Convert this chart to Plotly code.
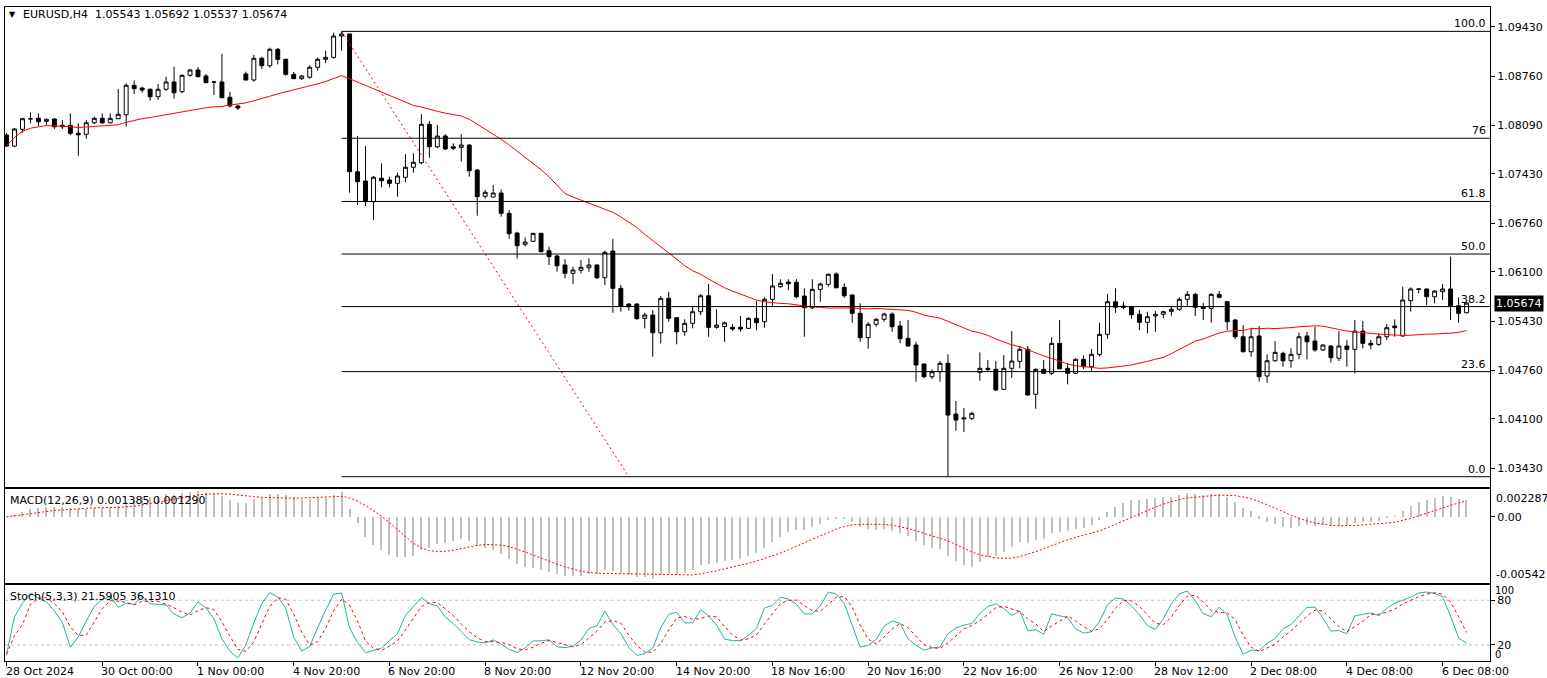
import plotly.graph_objects as go
import pandas as pd

# ---------------- data (EURUSD H4) ----------------
opens = [1.07958,1.07808,1.08036,1.08180,1.08185,1.08144,1.08176,1.08090,1.08090,1.07981,
1.07968,1.08125,1.08185,1.08125,1.08180,1.08234,1.08634,1.08597,1.08580,1.08479,
1.08580,1.08679,1.08547,1.08770,1.08842,1.08760,1.08679,1.08679,1.08471,1.08353,
1.08788,1.08706,1.09001,1.08900,1.09123,1.08987,1.08783,1.08724,1.08743,1.08879,
1.08987,1.09014,1.09304,1.09331,1.07460,1.07333,1.07052,1.07370,1.07347,1.07302,
1.07384,1.07520,1.07582,1.08104,1.07799,1.07945,1.07799,1.07790,1.07822,1.07483,
1.07126,1.07116,1.07170,1.06894,1.06626,1.06473,1.06514,1.06622,1.06386,1.06314,
1.06192,1.06079,1.06120,1.06155,1.06192,1.06019,1.06382,1.05875,1.05662,1.05662,
1.05467,1.05512,1.05271,1.05739,1.05476,1.05285,1.05399,1.05557,1.05774,1.05345,
1.05356,1.05345,1.05345,1.05331,1.05467,1.05421,1.05726,1.05897,1.05961,1.05957,
1.05770,1.05611,1.05861,1.05929,1.06070,1.05888,1.05784,1.05535,1.05204,1.05386,
1.05454,1.05526,1.05363,1.05195,1.05105,1.04847,1.04674,1.04742,1.04856,1.04167,
1.04100,1.04108,1.04733,1.04788,1.04774,1.04502,1.04788,1.04883,1.05046,1.04435,
1.04774,1.04720,1.05127,1.04788,1.04720,1.04910,1.04810,1.04978,1.05250,1.05693,
1.05634,1.05625,1.05522,1.05413,1.05499,1.05522,1.05562,1.05590,1.05726,1.05793,
1.05625,1.05603,1.05793,1.05693,1.05444,1.05217,1.05013,1.05227,1.04683,1.04891,
1.04992,1.04891,1.04978,1.05227,1.05158,1.05037,1.05091,1.04924,1.05091,1.05046,
1.05294,1.05127,1.05114,1.05217,1.05363,1.05227,1.05707,1.05861,1.05866,1.05761,
1.05829,1.05866,1.05639,1.05543]
highs = [1.07985,1.08053,1.08193,1.08267,1.08253,1.08180,1.08185,1.08162,1.08253,1.08117,
1.08162,1.08207,1.08253,1.08253,1.08584,1.08661,1.08702,1.08615,1.08590,1.08652,
1.08751,1.08887,1.08780,1.08856,1.08883,1.08788,1.08693,1.09059,1.08547,1.08370,
1.08819,1.09046,1.09022,1.09145,1.09141,1.08995,1.08815,1.08774,1.08906,1.09014,
1.09104,1.09349,1.09367,1.09335,1.07945,1.07808,1.07401,1.07574,1.07392,1.07446,
1.07696,1.07710,1.08240,1.08149,1.08094,1.07968,1.07845,1.07968,1.07836,1.07497,
1.07211,1.07279,1.07221,1.06939,1.06644,1.06568,1.06630,1.06630,1.06441,1.06328,
1.06270,1.06169,1.06260,1.06283,1.06201,1.06386,1.06545,1.05920,1.05671,1.05671,
1.05543,1.05580,1.05770,1.05829,1.05480,1.05454,1.05625,1.05797,1.05934,1.05590,
1.05420,1.05390,1.05499,1.05481,1.05702,1.05753,1.06070,1.05998,1.05998,1.06001,
1.05875,1.05998,1.05952,1.06079,1.06093,1.05943,1.05790,1.05671,1.05417,1.05467,
1.05543,1.05549,1.05431,1.05444,1.05145,1.04856,1.04774,1.04887,1.04978,1.04344,
1.04248,1.04198,1.05005,1.04901,1.04887,1.04969,1.05294,1.05091,1.05091,1.04788,
1.04901,1.05209,1.05444,1.04856,1.04924,1.04964,1.05050,1.05407,1.05797,1.05875,
1.05693,1.05634,1.05580,1.05557,1.05567,1.05571,1.05625,1.05753,1.05838,1.05815,
1.05675,1.05807,1.05838,1.05702,1.05462,1.05376,1.05340,1.05363,1.04978,1.05158,
1.05013,1.05060,1.05271,1.05285,1.05353,1.05114,1.05105,1.05294,1.05172,1.05444,
1.05431,1.05172,1.05263,1.05386,1.05454,1.05897,1.05888,1.05875,1.05870,1.05852,
1.05934,1.06305,1.05753,1.05692]
lows = [1.07794,1.07794,1.07989,1.08117,1.08080,1.08094,1.08040,1.08040,1.07958,1.07677,
1.07908,1.08108,1.08108,1.08117,1.08175,1.08071,1.08516,1.08533,1.08424,1.08434,
1.08560,1.08452,1.08525,1.08751,1.08743,1.08665,1.08502,1.08460,1.08335,1.08298,
1.08700,1.08683,1.08856,1.08873,1.08919,1.08764,1.08720,1.08706,1.08724,1.08833,
1.08933,1.08995,1.09104,1.07174,1.07007,1.06993,1.06803,1.07248,1.07248,1.07120,
1.07316,1.07446,1.07561,1.07650,1.07778,1.07755,1.07755,1.07596,1.07392,1.06862,
1.07093,1.07112,1.06848,1.06549,1.06278,1.06441,1.06505,1.06365,1.06192,1.06101,
1.06011,1.05934,1.06079,1.06101,1.06001,1.05920,1.05543,1.05557,1.05571,1.05450,
1.05331,1.04946,1.05127,1.05421,1.05114,1.05231,1.05331,1.05512,1.05217,1.05326,
1.05149,1.05299,1.05285,1.05322,1.05308,1.05340,1.05634,1.05883,1.05852,1.05739,
1.05217,1.05594,1.05693,1.05897,1.05875,1.05747,1.05407,1.05149,1.05055,1.05353,
1.05421,1.05285,1.05127,1.05081,1.04606,1.04652,1.04642,1.04606,1.03315,1.03940,
1.03922,1.04085,1.04619,1.04738,1.04483,1.04493,1.04660,1.04788,1.04412,1.04239,
1.04710,1.04697,1.04774,1.04570,1.04710,1.04774,1.04738,1.04951,1.05190,1.05543,
1.05590,1.05462,1.05308,1.05263,1.05285,1.05467,1.05503,1.05571,1.05634,1.05499,
1.05444,1.05407,1.05739,1.05308,1.05186,1.05005,1.04946,1.04606,1.04592,1.04877,
1.04810,1.04796,1.04910,1.04910,1.05013,1.05023,1.04864,1.04887,1.04810,1.04720,
1.05060,1.05046,1.05091,1.05172,1.05217,1.05217,1.05557,1.05807,1.05648,1.05671,
1.05716,1.05444,1.05407,1.05537]
closes = [1.07808,1.08040,1.08180,1.08178,1.08139,1.08172,1.08071,1.08071,1.07981,1.07962,
1.08125,1.08185,1.08125,1.08185,1.08240,1.08634,1.08588,1.08570,1.08479,1.08580,
1.08679,1.08533,1.08770,1.08842,1.08751,1.08669,1.08676,1.08465,1.08353,1.08325,
1.08706,1.09001,1.08900,1.09123,1.08987,1.08783,1.08724,1.08760,1.08879,1.08987,
1.09014,1.09304,1.09331,1.07460,1.07324,1.07052,1.07384,1.07337,1.07302,1.07401,
1.07520,1.07588,1.08104,1.07799,1.07945,1.07768,1.07778,1.07822,1.07473,1.07120,
1.07180,1.07170,1.06894,1.06617,1.06454,1.06504,1.06622,1.06373,1.06305,1.06182,
1.06079,1.06124,1.06161,1.06192,1.06019,1.06365,1.05875,1.05634,1.05625,1.05462,
1.05512,1.05271,1.05739,1.05467,1.05285,1.05399,1.05557,1.05774,1.05345,1.05376,
1.05406,1.05322,1.05322,1.05467,1.05407,1.05726,1.05907,1.05943,1.05938,1.05761,
1.05611,1.05861,1.05934,1.06066,1.05883,1.05774,1.05535,1.05204,1.05386,1.05454,
1.05526,1.05353,1.05190,1.05091,1.04833,1.04674,1.04742,1.04856,1.04153,1.04085,
1.04112,1.04176,1.04788,1.04774,1.04493,1.04788,1.04887,1.05046,1.04425,1.04774,
1.04720,1.05127,1.04782,1.04720,1.04910,1.04810,1.04978,1.05250,1.05693,1.05617,
1.05617,1.05516,1.05413,1.05489,1.05522,1.05557,1.05590,1.05726,1.05793,1.05617,
1.05601,1.05793,1.05753,1.05421,1.05217,1.05013,1.05217,1.04674,1.04891,1.05005,
1.04891,1.04978,1.05217,1.05149,1.05037,1.05105,1.04932,1.05091,1.05046,1.05294,
1.05127,1.05105,1.05217,1.05340,1.05340,1.05716,1.05866,1.05866,1.05761,1.05838,
1.05866,1.05639,1.05535,1.05674]

date_tick_bars = [0, 12, 24, 36, 48, 60, 72, 84, 96, 108, 120, 132, 144, 156, 168, 180]
date_tick_labels = ["28 Oct 2024", "30 Oct 00:00", "1 Nov 00:00", "4 Nov 20:00", "6 Nov 20:00",
                    "8 Nov 20:00", "12 Nov 20:00", "14 Nov 20:00", "18 Nov 16:00", "20 Nov 16:00",
                    "22 Nov 16:00", "26 Nov 12:00", "28 Nov 12:00", "2 Dec 08:00", "4 Dec 08:00",
                    "6 Dec 08:00"]
price_ticks = [1.09430, 1.08760, 1.08090, 1.07430, 1.06760, 1.06100, 1.05430, 1.04760, 1.04100, 1.03430]

fib_anchor_bars = [42, 78]
fib_anchor_prices = [1.09367, 1.03315]
fib_levels = [100.0, 76.0, 61.8, 50.0, 38.2, 23.6, 0.0]
fib_texts = ["100.0", "76", "61.8", "50.0", "38.2", "23.6", "0.0"]

MA_PERIOD = 28
macd_shown = [0.001385, 0.001290]
macd_scale = [0.002287, -0.00542]
stoch_shown = [21.5905, 36.1310]
stoch_levels = [80, 20]

# ---------------- indicators ----------------
n = len(closes)
bars = list(range(n))
c = pd.Series(closes)
h = pd.Series(highs)
l = pd.Series(lows)
ma = c.rolling(MA_PERIOD, min_periods=1).mean()
macd = c.ewm(span=12, adjust=False).mean() - c.ewm(span=26, adjust=False).mean()
signal = macd.rolling(9, min_periods=1).mean()
ll = l.rolling(5, min_periods=1).min()
hh = h.rolling(5, min_periods=1).max()
stk = 100 * (c - ll).rolling(3, min_periods=1).sum() / (hh - ll).rolling(3, min_periods=1).sum()
std = stk.rolling(3, min_periods=1).mean()

FONT = "DejaVu Sans"
W, H = 1547, 678
ML, MR, MT, MB = 4, 54, 7, 17
xr = [-0.19, 185.94]

fig = go.Figure()
fig.add_trace(go.Candlestick(
    x=bars, open=opens, high=highs, low=lows, close=closes,
    increasing=dict(line=dict(color="black", width=1), fillcolor="white"),
    decreasing=dict(line=dict(color="black", width=1), fillcolor="black"),
    whiskerwidth=0, showlegend=False, hoverinfo="skip", xaxis="x", yaxis="y"))
fig.add_trace(go.Scatter(x=bars, y=ma, mode="lines", line=dict(color="#ff0000", width=1),
                         showlegend=False, hoverinfo="skip", xaxis="x", yaxis="y"))
fig.add_trace(go.Scatter(x=fib_anchor_bars, y=fib_anchor_prices, mode="lines",
                         line=dict(color="#ff0000", width=1, dash="2px,3px"),
                         showlegend=False, hoverinfo="skip", xaxis="x", yaxis="y"))

fig.add_trace(go.Bar(x=bars, y=macd, width=0.14, marker=dict(color="#c0c0c0", line=dict(width=0)),
                     showlegend=False, hoverinfo="skip", xaxis="x2", yaxis="y2"))
fig.add_trace(go.Scatter(x=bars, y=signal, mode="lines", line=dict(color="#ff0000", width=1, dash="2px,2px"),
                         showlegend=False, hoverinfo="skip", xaxis="x2", yaxis="y2"))

fig.add_trace(go.Scatter(x=bars, y=stk, mode="lines", line=dict(color="#20b2aa", width=1),
                         showlegend=False, hoverinfo="skip", xaxis="x3", yaxis="y3"))
fig.add_trace(go.Scatter(x=bars, y=std, mode="lines", line=dict(color="#ff0000", width=1, dash="3px,3px"),
                         showlegend=False, hoverinfo="skip", xaxis="x3", yaxis="y3"))

plot_h = H - MT - MB
def dom(top_px, bot_px):
    return [(H - MB - bot_px) / plot_h, (H - MB - top_px) / plot_h]

axis_common = dict(showline=True, mirror=True, linecolor="black", linewidth=1,
                   showgrid=False, zeroline=False)
tickfont = dict(family=FONT, size=11, color="black")

shapes = []
hi_p, lo_p = fib_anchor_prices
for lv in fib_levels:
    p = lo_p + (hi_p - lo_p) * lv / 100.0
    shapes.append(dict(type="line", xref="x", yref="y", x0=fib_anchor_bars[0], x1=xr[1],
                       y0=p, y1=p, line=dict(color="black", width=1)))
for lv in stoch_levels:
    shapes.append(dict(type="line", xref="x3 domain", yref="y3", x0=0, x1=1, y0=lv, y1=lv,
                       line=dict(color="#c0c0c0", width=1, dash="3px,3px"), layer="below"))

ann = []
def A(**kw):
    d = dict(showarrow=False, font=dict(family=FONT, size=11, color="black"))
    d.update(kw)
    ann.append(d)

for lv, t in zip(fib_levels, fib_texts):
    p = lo_p + (hi_p - lo_p) * lv / 100.0
    A(text=t, xref="paper", x=1, xanchor="right", xshift=-2, yref="y", y=p, yanchor="bottom", yshift=-1)

A(text="▼", xref="paper", x=0, xanchor="left", xshift=2, yref="paper", y=1, yanchor="middle",
  yshift=-7, font=dict(family=FONT, size=8, color="black"))
A(text=f"EURUSD,H4  {opens[-1]:.5f} {highs[-1]:.5f} {lows[-1]:.5f} {closes[-1]:.5f}",
  xref="paper", x=0, xanchor="left", xshift=16, yref="paper", y=1, yanchor="middle", yshift=-7)
A(text=f"MACD(12,26,9) {macd_shown[0]:.6f} {macd_shown[1]:.6f}", xref="paper", x=0, xanchor="left",
  xshift=3, yref="y2 domain", y=1, yanchor="middle", yshift=-12)
A(text=f"Stoch(5,3,3) {stoch_shown[0]:.4f} {stoch_shown[1]:.4f}", xref="paper", x=0, xanchor="left",
  xshift=3, yref="y3 domain", y=1, yanchor="middle", yshift=-11)

# current price box
A(text=f"{closes[-1]:.5f}", xref="paper", x=1, xanchor="left", xshift=4, yref="y", y=closes[-1],
  yanchor="middle", bgcolor="black", borderpad=1, font=dict(family=FONT, size=11, color="white"))

# macd / stoch scale labels
A(text=f"{macd_scale[0]:.6f}", xref="paper", x=1, xanchor="left", xshift=4, yref="y2", y=macd_scale[0],
  yanchor="middle", yshift=-10)
A(text=f"{macd_scale[1]:.5f}", xref="paper", x=1, xanchor="left", xshift=4, yref="y2", y=macd_scale[1],
  yanchor="middle", yshift=9)
A(text="100", xref="paper", x=1, xanchor="left", xshift=4, yref="y3", y=100, yanchor="middle", yshift=-5,
  font=dict(family=FONT, size=10, color="black"), borderpad=0)
A(text="0", xref="paper", x=1, xanchor="left", xshift=4, yref="y3", y=0, yanchor="middle", yshift=5,
  font=dict(family=FONT, size=10, color="black"), borderpad=0)

for b, t in zip(date_tick_bars, date_tick_labels):
    A(text=t, xref="x3", x=b, xanchor="left", xshift=-2, yref="paper", y=0, yanchor="top", yshift=-3,
      borderpad=0)

fig.update_layout(
    width=W, height=H, margin=dict(l=ML, r=MR, t=MT, b=MB, pad=0),
    paper_bgcolor="white", plot_bgcolor="white", showlegend=False, bargap=0,
    xaxis=dict(domain=[0, 1], anchor="y", range=xr, showticklabels=False, ticks="",
               rangeslider=dict(visible=False), **axis_common),
    yaxis=dict(domain=dom(7, 486.5), anchor="x", range=[1.03182, 1.09698], side="right",
               tickvals=price_ticks, ticktext=[f"{v:.5f}" for v in price_ticks], ticks="outside",
               ticklen=4, tickcolor="black", tickfont=tickfont, **axis_common),
    xaxis2=dict(domain=[0, 1], anchor="y2", matches="x", showticklabels=False, ticks="", **axis_common),
    yaxis2=dict(domain=dom(489, 583), anchor="x2", range=[macd_scale[1], macd_scale[0]], side="right",
                tickvals=[0], ticktext=["0.00"], ticks="outside", ticklen=4, tickcolor="black",
                tickfont=tickfont, **axis_common),
    xaxis3=dict(domain=[0, 1], anchor="y3", matches="x", tickvals=date_tick_bars, showticklabels=False,
                ticks="outside", ticklen=4, tickcolor="black", **axis_common),
    yaxis3=dict(domain=dom(585, 661), anchor="x3", range=[-1.6, 100.5], side="right",
                tickvals=stoch_levels, ticktext=[str(v) for v in stoch_levels], ticks="outside",
                ticklen=4, tickcolor="black", tickfont=tickfont, **axis_common),
    shapes=shapes, annotations=ann,
)

fig.write_html("out.html")
